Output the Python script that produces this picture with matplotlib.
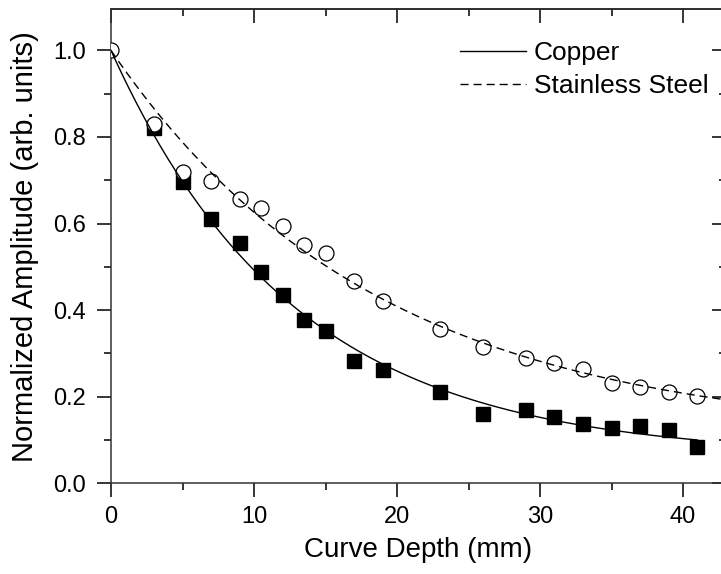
import numpy as np
import matplotlib
matplotlib.use("Agg")
import matplotlib.pyplot as plt
from matplotlib.ticker import MultipleLocator

plt.rcParams['font.family'] = ['Liberation Sans', 'DejaVu Sans']

# %% measured amplitudes vs. curve depth
copper_depth = [3, 5, 7, 9, 10.5, 12, 13.5, 15, 17, 19, 23, 26, 29, 31, 33, 35, 37, 39, 41]
copper_amp = [0.82, 0.697, 0.61, 0.556, 0.489, 0.434, 0.378, 0.351, 0.282, 0.261,
              0.21, 0.161, 0.17, 0.153, 0.137, 0.127, 0.132, 0.123, 0.084]

steel_depth = [0, 3, 5, 7, 9, 10.5, 12, 13.5, 15, 17, 19, 23, 26, 29, 31, 33, 35, 37, 39, 41]
steel_amp = [1.0, 0.831, 0.719, 0.699, 0.657, 0.636, 0.595, 0.551, 0.531, 0.467,
             0.42, 0.357, 0.314, 0.289, 0.277, 0.263, 0.231, 0.223, 0.212, 0.202]

x_ticks = [0, 10, 20, 30, 40]
y_ticks = [0.0, 0.2, 0.4, 0.6, 0.8, 1.0]


# %% exponential decay fit through (0, 1): y = y0 + (1 - y0) * exp(-x / t)
def fit_decay(x, y):
    x = np.asarray(x, float)
    y = np.asarray(y, float)
    best = None
    for t in np.arange(1.0, 80.0, 0.01):
        e = np.exp(-x / t)
        g = 1 - e
        y0 = np.sum(g * (y - e)) / np.sum(g * g)
        err = np.sum((y0 + (1 - y0) * e - y) ** 2)
        if best is None or err < best[0]:
            best = (err, y0, t)
    return best[1], best[2]


cu_y0, cu_t = fit_decay(copper_depth, copper_amp)
ss_y0, ss_t = fit_decay(steel_depth, steel_amp)

xc = np.linspace(0, 41, 300)
xs = np.linspace(0, 43, 300)
cu_fit = cu_y0 + (1 - cu_y0) * np.exp(-xc / cu_t)
ss_fit = ss_y0 + (1 - ss_y0) * np.exp(-xs / ss_t)

# %% figure
fig = plt.figure(figsize=(7.21, 5.74), dpi=100)
ax = fig.add_axes([111 / 721, 1 - 483.3 / 574, 615 / 721, 474 / 574])

ax.plot(copper_depth, copper_amp, ls='none', marker='s', ms=10.3,
        mfc='black', mec='black', zorder=2)
ax.plot(steel_depth, steel_amp, ls='none', marker='o', ms=10.8,
        mfc='white', mec='black', mew=0.9, zorder=3)
ax.plot(xc, cu_fit, color='black', lw=1.0, label='Copper', zorder=4)
ax.plot(xs, ss_fit, color='black', lw=1.0, dashes=(5.8, 3.6),
        label='Stainless Steel', zorder=4)

ax.set_xlim(0, 43)
ax.set_ylim(0, 1.095)
ax.set_xticks(x_ticks)
ax.set_yticks(y_ticks)
ax.xaxis.set_minor_locator(MultipleLocator(5))
ax.yaxis.set_minor_locator(MultipleLocator(0.1))
ax.yaxis.set_major_formatter(matplotlib.ticker.FormatStrFormatter('%.1f'))

ax.tick_params(which='major', direction='out', length=10, width=1.1,
               labelsize=17, pad=6)
ax.tick_params(axis='y', which='major', pad=8)
ax.tick_params(which='minor', direction='out', length=5, width=1.1)

for s in ax.spines.values():
    s.set_linewidth(1.1)
    s.set_color('#333333')

# mirrored ticks pointing inward on the top and right
top = ax.secondary_xaxis('top')
top.set_xticks(x_ticks)
top.xaxis.set_minor_locator(MultipleLocator(5))
top.tick_params(which='major', direction='in', length=10, width=1.1, labeltop=False)
top.tick_params(which='minor', direction='in', length=5, width=1.1)
top.spines['top'].set_linewidth(1.1)

right = ax.secondary_yaxis('right')
right.set_yticks(y_ticks)
right.yaxis.set_minor_locator(MultipleLocator(0.1))
right.tick_params(which='major', direction='in', length=10, width=1.1, labelright=False)
right.tick_params(which='minor', direction='in', length=5, width=1.1)

ax.set_xlabel('Curve Depth (mm)', fontsize=20, labelpad=7)
ax.set_ylabel('Normalized Amplitude (arb. units)', fontsize=21, labelpad=10)

ax.legend(loc='upper left', bbox_to_anchor=(460 / 721, 1 - 41 / 574),
          bbox_transform=fig.transFigure, frameon=False, fontsize=19,
          handlelength=2.5, handletextpad=0.3, labelspacing=0.35,
          borderpad=0, borderaxespad=0)

fig.savefig('out.png', dpi=100)
